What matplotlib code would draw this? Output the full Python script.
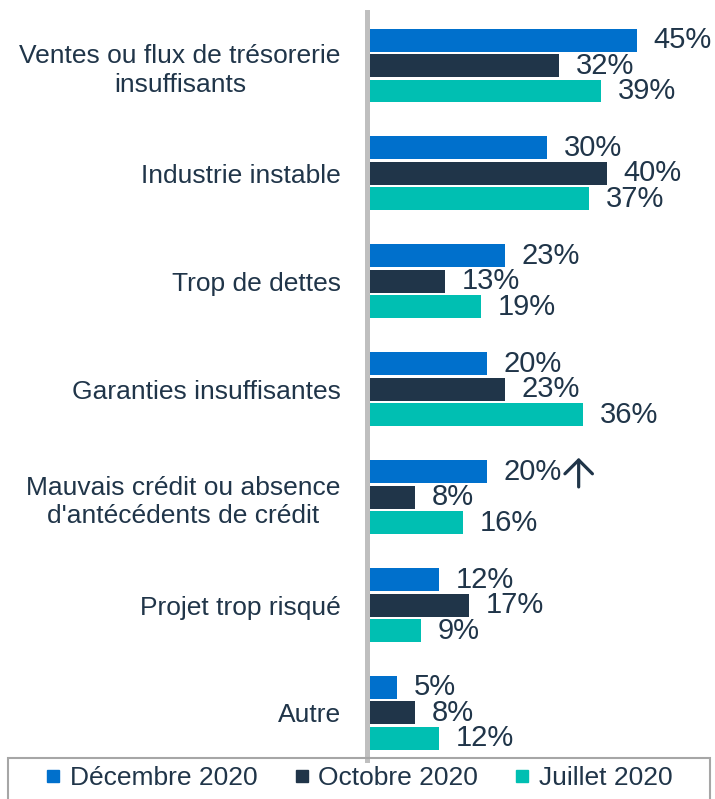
import matplotlib.pyplot as plt
import matplotlib.transforms as mtransforms
from matplotlib.lines import Line2D
from matplotlib.patches import Rectangle

categories = ['Ventes ou flux de trésorerie\ninsuffisants', 'Industrie instable', 'Trop de dettes',
              'Garanties insuffisantes', 'Mauvais crédit ou absence\nd\'antécédents de crédit',
              'Projet trop risqué', 'Autre']
series = ['Décembre 2020', 'Octobre 2020', 'Juillet 2020']
dec_2020 = [45, 30, 23, 20, 20, 12, 5]
oct_2020 = [32, 40, 13, 23, 8, 17, 8]
jul_2020 = [39, 37, 19, 36, 16, 9, 12]
arrow_up = [False, False, False, False, True, False, False]  # arrow next to the Dec label

colors = ['#0070CC', '#203549', '#00BFB2']
txt = '#203549'
plt.rcParams['font.family'] = ['Liberation Sans', 'DejaVu Sans']

W, H = 715, 799
fig = plt.figure(figsize=(W / 100, H / 100), dpi=100)
ax = fig.add_axes([367 / W, 1 - 760 / H, (W - 367) / W, (760 - 12) / H])

off = 25.5 / 108
bh = 23 / 108
for k, vals in enumerate([dec_2020, oct_2020, jul_2020]):
  ys = [i + (k - 1) * off for i in range(len(categories))]
  ax.barh(ys, vals, height=bh, color=colors[k], zorder=1)
  for i, (y, v) in enumerate(zip(ys, vals)):
    ax.annotate('%d%%' % v, (v, y), xytext=(12, 0), textcoords='offset points',
                va='center', ha='left', fontsize=21, color=txt)
    if k == 0 and arrow_up[i]:
      top = mtransforms.offset_copy(ax.transData, fig=fig, x=0, y=0, units='points')
      tip = mtransforms.offset_copy(ax.transData, fig=fig, x=66, y=10, units='points')
      tail = mtransforms.offset_copy(ax.transData, fig=fig, x=66, y=-11, units='points')
      ax.annotate('', xy=(v, y), xycoords=tip, xytext=(v, y), textcoords=tail,
                  arrowprops=dict(arrowstyle='->,head_length=0.45,head_width=0.45',
                                  lw=2.3, color=txt, mutation_scale=22,
                                  shrinkA=0, shrinkB=0))

ax.set_xlim(0, (W - 367) / 6.0)
ax.set_ylim(len(categories) - 1 + 0.436, -0.496)
ax.set_yticks(range(len(categories)))
ax.set_yticklabels(categories, fontsize=19, color=txt)
for t in ax.get_yticklabels():
  t.set_multialignment('center')
  t.set_linespacing(1.25)
ax.tick_params(axis='y', length=0, pad=19)
ax.set_xticks([])
for s in ['top', 'right', 'bottom']:
  ax.spines[s].set_visible(False)
ax.spines['left'].set_color('#bfbfbf')
ax.spines['left'].set_linewidth(3.6)
ax.spines['left'].set_zorder(3)

# legend frame drawn by hand, bottom edge runs off the figure
fig.patches.append(Rectangle((8 / W, -0.02), 702 / W, 0.02 + 1 - 758 / H, transform=fig.transFigure,
                             fill=False, edgecolor='#a6a6a6', linewidth=1.5))
handles = [Line2D([], [], marker='s', linestyle='', color=c, markersize=8.6) for c in colors]
leg = fig.legend(handles, series, loc='center left', ncol=3,
                 bbox_to_anchor=(46 / W, 1 - 778 / H), fontsize=19, frameon=False,
                 handletextpad=0.35, handlelength=0.55, columnspacing=1.4,
                 borderpad=0, borderaxespad=0)
for t in leg.get_texts():
  t.set_color(txt)

fig.savefig('out.png', dpi=100)
